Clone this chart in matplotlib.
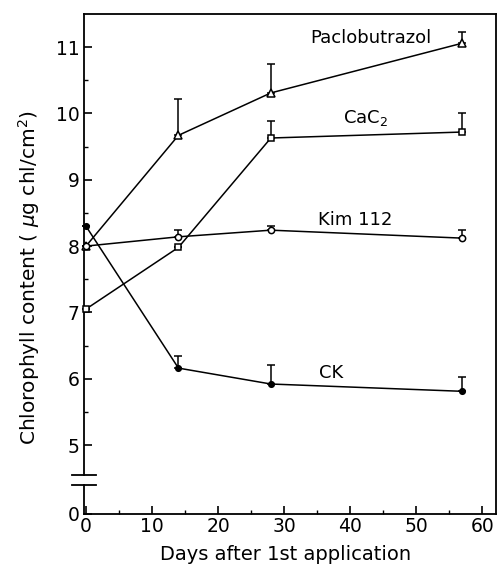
import matplotlib
matplotlib.use("Agg")
import matplotlib.pyplot as plt

plt.rcParams['font.family'] = ['DejaVu Sans']

days = [0, 14, 28, 57]

# chlorophyll content (ug chl/cm2) and upper error
paclo = [8.0, 9.67, 10.31, 11.06]
paclo_err = [0, 0.55, 0.43, 0.17]
cac2 = [7.05, 7.98, 9.63, 9.72]
cac2_err = [0, 0, 0.25, 0.28]
kim = [8.0, 8.14, 8.24, 8.12]
kim_err = [0, 0.11, 0.06, 0.12]
ck = [8.3, 6.16, 5.92, 5.81]
ck_err = [0, 0.19, 0.28, 0.21]

yticks = [5, 6, 7, 8, 9, 10, 11]
xticks = [0, 10, 20, 30, 40, 50, 60]

y_zero = 3.96  # where "0" sits below the break

fig = plt.figure(figsize=(5, 5.67), dpi=100)
ax = fig.add_axes([0.168, 0.0935, 0.824, 0.8818])

series = [
    (paclo, paclo_err, '^', 'white', 5.5),
    (cac2, cac2_err, 's', 'white', 5),
    (kim, kim_err, 'o', 'white', 4.5),
    (ck, ck_err, 'o', 'black', 4),
]
for vals, err, mk, fc, ms in series:
    ax.errorbar(days, vals, yerr=[[0] * len(err), err], color='black', lw=1.1,
                marker=mk, mfc=fc, mec='black', ms=ms, mew=1.1,
                capsize=3, elinewidth=1.1, capthick=1.1, clip_on=False, zorder=3)

ax.text(43.2, 11.14, 'Paclobutrazol', ha='center', va='center', fontsize=13)
ax.text(42.4, 9.93, 'CaC$_2$', ha='center', va='center', fontsize=13)
ax.text(40.8, 8.39, 'Kim 112', ha='center', va='center', fontsize=13)
ax.text(37.1, 6.08, 'CK', ha='center', va='center', fontsize=13)

ax.set_xlim(-0.3, 62.1)
ax.set_ylim(y_zero, 11.5)
ax.set_xticks(xticks)
ax.set_xticks([5, 15, 25, 35, 45, 55], minor=True)
ax.set_yticks([y_zero] + yticks)
ax.set_yticklabels(['0'] + [str(v) for v in yticks])
ax.set_yticks([5.5, 6.5, 7.5, 8.5, 9.5, 10.5], minor=True)
ax.tick_params(which='major', direction='in', length=6, width=1.2, labelsize=13.5)
ax.tick_params(which='minor', direction='in', length=3, width=1)
ax.tick_params(axis='x', which='major', pad=2)
ax.tick_params(axis='y', which='major', pad=3)

for s in ['top', 'right', 'bottom']:
    ax.spines[s].set_linewidth(1.3)
ax.spines['left'].set_visible(False)

# broken left axis
tr = ax.get_yaxis_transform()
ax.plot([0, 0], [y_zero, 4.40], color='black', lw=1.3, transform=tr, clip_on=False)
ax.plot([0, 0], [4.55, 11.5], color='black', lw=1.3, transform=tr, clip_on=False)
for yb in [4.40, 4.55]:
    ax.plot([-0.03, 0.03], [yb, yb], color='black', lw=1.3, transform=tr, clip_on=False)

ax.set_xlabel('Days after 1st application', fontsize=14)
ax.set_ylabel('Chlorophyll content ( $\\mu$g chl/cm$^2$)', fontsize=14.5)
ax.xaxis.set_label_coords(0.49, -0.062)
ax.yaxis.set_label_coords(-0.102, 0.472)

fig.savefig('out.png', dpi=100)
